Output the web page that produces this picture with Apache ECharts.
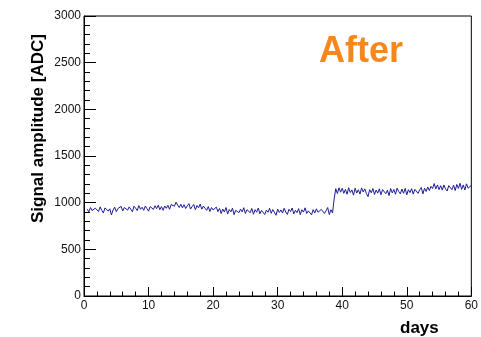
<!DOCTYPE html>
<html>
<head>
<meta charset="utf-8">
<script src="https://cdn.jsdelivr.net/npm/echarts@6/dist/echarts.min.js"></script>
<style>
html,body{margin:0;padding:0;background:#fff;}
#chart{width:481px;height:337px;}
</style>
</head>
<body>
<div id="chart"></div>
<script>
var days = [
0.5,0.75,1,1.25,1.5,1.75,2,2.25,2.5,2.75,3,3.25,3.5,3.75,4,4.25,4.5,4.75,5,5.25,
5.5,5.75,6,6.25,6.5,6.75,7,7.25,7.5,7.75,8,8.25,8.5,8.75,9,9.25,9.5,9.75,10,10.25,
10.5,10.75,11,11.25,11.5,11.75,12,12.25,12.5,12.75,13,13.25,13.5,13.75,14,14.25,14.5,14.75,15,15.25,
15.5,15.75,16,16.25,16.5,16.75,17,17.25,17.5,17.75,18,18.25,18.5,18.75,19,19.25,19.5,19.75,20,20.25,
20.5,20.75,21,21.25,21.5,21.75,22,22.25,22.5,22.75,23,23.25,23.5,23.75,24,24.25,24.5,24.75,25,25.25,
25.5,25.75,26,26.25,26.5,26.75,27,27.25,27.5,27.75,28,28.25,28.5,28.75,29,29.25,29.5,29.75,30,30.25,
30.5,30.75,31,31.25,31.5,31.75,32,32.25,32.5,32.75,33,33.25,33.5,33.75,34,34.25,34.5,34.75,35,35.25,
35.5,35.75,36,36.25,36.5,36.75,37,37.25,37.5,37.75,38,38.25,38.5,38.75,39,39.25,39.5,39.75,40,40.25,
40.5,40.75,41,41.25,41.5,41.75,42,42.25,42.5,42.75,43,43.25,43.5,43.75,44,44.25,44.5,44.75,45,45.25,
45.5,45.75,46,46.25,46.5,46.75,47,47.25,47.5,47.75,48,48.25,48.5,48.75,49,49.25,49.5,49.75,50,50.25,
50.5,50.75,51,51.25,51.5,51.75,52,52.25,52.5,52.75,53,53.25,53.5,53.75,54,54.25,54.5,54.75,55,55.25,
55.5,55.75,56,56.25,56.5,56.75,57,57.25,57.5,57.75,58,58.25,58.5,58.75,59,59.25,59.5,59.75,60
];
var amplitude = [
930,902,948,915,896,941,925,905,955,918,889,944,951,910,934,868,921,952,904,937,
941,960,912,948,966,920,955,934,903,962,940,915,968,929,951,918,964,936,909,958,
955,928,967,936,973,925,958,918,964,940,972,929,980,992,962,1005,975,948,983,944,
978,938,966,990,931,958,981,925,970,945,985,930,963,940,918,958,905,948,922,905,
952,905,938,884,931,900,948,878,926,902,941,872,918,937,893,930,901,946,884,925,
924,892,938,876,925,898,942,881,916,935,873,920,897,940,886,926,908,865,931,895,
922,889,940,900,874,929,905,943,880,918,893,936,872,924,899,945,884,912,932,870,
925,890,934,897,878,928,944,885,913,948,872,925,890,1040,1150,1098,1160,1112,1155,1100,
1142,1090,1160,1108,1137,1080,1155,1103,1138,1092,1158,1114,1148,1098,1065,1140,1106,1152,1088,1135,
1102,1148,1085,1140,1158,1096,1134,1075,1152,1105,1141,1090,1156,1118,1094,1146,1100,1153,1083,1139,
1108,1150,1092,1143,1158,1100,1137,1162,1094,1155,1120,1168,1130,1175,1152,1205,1148,1190,1140,1182,
1135,1190,1148,1125,1182,1198,1140,1188,1130,1195,1152,1208,1142,1190,1136,1202,1155,1138,1185
];
var xTicks = [0,10,20,30,40,50,60];
var yTicks = [0,500,1000,1500,2000,2500,3000];
var yTitle = 'Signal amplitude [ADC]';
var xTitle = 'days';
var label = 'After';

var seriesData = days.map(function(d,i){ return [d, amplitude[i]]; });

var chart = echarts.init(document.getElementById('chart'), null, {renderer:'canvas'});
var font = 'Liberation Sans, Arial, Helvetica, sans-serif';
chart.setOption({
  backgroundColor:'#ffffff',
  animation:false,
  grid:{left:84, top:16, width:388, height:280, show:true, borderColor:'#000', borderWidth:1, backgroundColor:'transparent'},
  xAxis:{
    type:'value', min:xTicks[0], max:xTicks[xTicks.length-1], interval:10,
    axisLine:{lineStyle:{color:'#000', width:1}},
    axisTick:{inside:true, length:9, lineStyle:{color:'#000'}},
    minorTick:{show:true, splitNumber:5, length:4.5, lineStyle:{color:'#000'}},
    splitLine:{show:false},
    axisLabel:{color:'#111', fontSize:12, fontFamily:font, margin:4, formatter:function(v){return String(v);}}
  },
  yAxis:{
    type:'value', min:yTicks[0], max:yTicks[yTicks.length-1], interval:500,
    axisLine:{show:true, lineStyle:{color:'#000', width:1}},
    axisTick:{show:true, inside:true, length:12, lineStyle:{color:'#000'}},
    minorTick:{show:true, splitNumber:5, length:6, lineStyle:{color:'#000'}},
    splitLine:{show:false},
    axisLabel:{color:'#111', fontSize:12, fontFamily:font, margin:3, formatter:function(v){return String(v);}}
  },
  graphic:[
    {type:'text', x:38, y:223, rotation:Math.PI/2,
     style:{text:yTitle, font:'bold 17px '+font, fill:'#000', textAlign:'left', textVerticalAlign:'middle'}},
    {type:'text', x:400, y:328, style:{text:xTitle, font:'bold 17px '+font, fill:'#000', textAlign:'left', textVerticalAlign:'middle'}},
    {type:'text', x:319, y:52, style:{text:label, font:'bold 36px '+font, fill:'#F5871F', textAlign:'left', textVerticalAlign:'middle'}}
  ],
  series:[{
    type:'line', data:seriesData, showSymbol:false, symbol:'none',
    lineStyle:{color:'#1c1c96', width:1}
  }]
});
</script>
</body>
</html>
